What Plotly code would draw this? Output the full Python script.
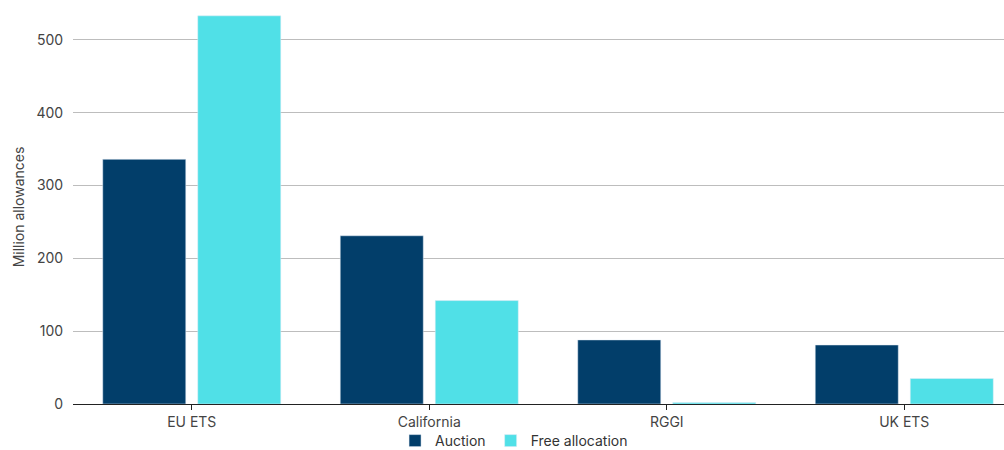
import plotly.graph_objects as go

categories = ["EU ETS", "California", "RGGI", "UK ETS"]
auction = [336, 231, 88, 81]
free_allocation = [533, 142, 2, 35]

NAVY = "#023e6a"
CYAN = "#50e0e7"
FONT = "Inter, Roboto, sans-serif"

fig = go.Figure()
fig.add_trace(go.Bar(name="Auction", x=categories, y=auction, marker_color=NAVY))
fig.add_trace(go.Bar(name="Free allocation", x=categories, y=free_allocation, marker_color=CYAN))

fig.update_layout(
    width=1004, height=450,
    margin=dict(l=73, r=0, t=10, b=46, autoexpand=False),
    plot_bgcolor="white", paper_bgcolor="white",
    barmode="group", bargap=0.2, bargroupgap=0.126,
    font=dict(family=FONT, size=14, color="#444"),
    showlegend=True,
    legend=dict(orientation="h", x=0.512, xanchor="center", xref="container",
                y=0.02, yanchor="middle", yref="container",
                bgcolor="rgba(0,0,0,0)",
                font=dict(size=14, color="#333"), traceorder="normal",
                itemwidth=30),
    xaxis=dict(range=[-0.5, 3.42], showline=True, linecolor="#222", linewidth=1,
               ticks="outside", ticklen=5, tickcolor="#222", tickfont=dict(size=14, color="#444")),
    yaxis=dict(range=[0, 541], tickvals=[0, 100, 200, 300, 400, 500], showgrid=True,
               gridcolor="#bdbdbd", gridwidth=1, zeroline=False,
               ticks="outside", ticklen=6, tickcolor="white",
               title=dict(text="Million allowances", font=dict(size=14, color="#444"), standoff=8),
               tickfont=dict(size=14, color="#444")),
)

fig.write_html("out.html")
